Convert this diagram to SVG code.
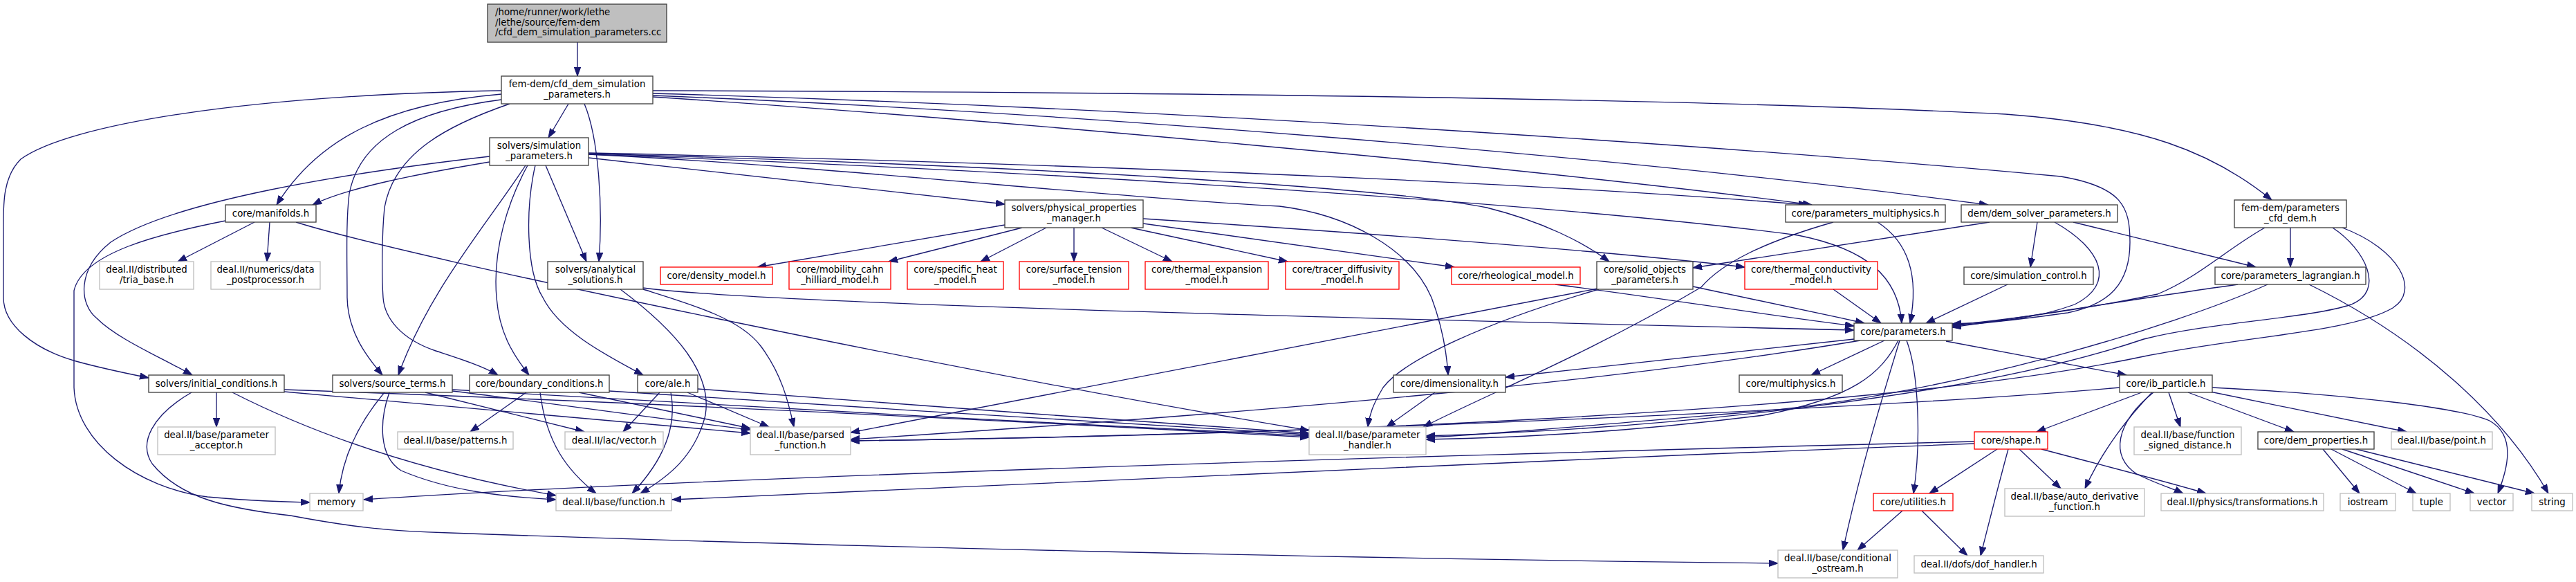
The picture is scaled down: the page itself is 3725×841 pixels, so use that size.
<svg xmlns="http://www.w3.org/2000/svg" width="3725" height="841" viewBox="0 0 3725 841">
<defs>
<marker id="ah" markerUnits="userSpaceOnUse" markerWidth="16" markerHeight="12" refX="13" refY="5" orient="auto">
<path d="M0,0.3 L13,5 L0,9.7 z" fill="#191970" stroke="#191970" stroke-width="1"/>
</marker>
<style>
rect{fill:#ffffff;stroke:#404040;stroke-width:1.33}
.g rect{stroke:#bfbfbf}
.r rect{stroke:#ff0000}
.root rect{fill:#bfbfbf;stroke:#404040}
text{font-family:"DejaVu Sans","Liberation Sans",sans-serif;font-size:13.33px;fill:#000000;text-anchor:middle}
.root text{text-anchor:start}
#edges path{fill:none;stroke:#191970;stroke-width:1.33;marker-end:url(#ah)}
</style>
</defs>
<rect x="0" y="0" width="3725" height="841" style="fill:#ffffff;stroke:none"/>
<g id="edges">
<path d="M835,61 L835,110"/>
<path d="M822,150 L793,199"/>
<path d="M845,150 C866,200 872,300 866,378"/>
<path d="M725,131 C350,138 100,180 30,230 C2,258 5,300 5,340 L5,430 C5,470 50,505 110,522 C150,533 185,540 215,546"/>
<path d="M725,136 C560,150 460,200 400,296"/>
<path d="M725,144 C600,160 520,200 505,280 C500,320 502,380 502,430 C503,480 530,515 553,542"/>
<path d="M737,150 C650,180 570,220 556,300 C552,340 552,400 554,430 C556,460 580,490 630,507 C670,520 700,530 720,542"/>
<path d="M944,131 C1600,133 2400,140 2900,165 C3100,180 3200,220 3285,289"/>
<path d="M944,135 C1800,160 2600,220 2980,255 C3070,270 3080,300 3080,350 C3080,410 3050,440 2990,452 C2920,462 2870,467 2823,471"/>
<path d="M944,138 C1500,160 2300,220 2875,296"/>
<path d="M944,140 C1400,170 2200,240 2620,296"/>
<path d="M708,234 C600,252 500,272 452,296"/>
<path d="M708,226 C500,250 250,290 160,350 C110,390 115,440 140,460 C170,490 230,515 278,542"/>
<path d="M760,239 C700,330 620,420 576,542"/>
<path d="M763,239 C735,290 712,360 718,430 C722,480 740,510 765,542"/>
<path d="M774,239 C760,300 760,390 785,430 C810,480 880,515 930,542"/>
<path d="M789,239 L848,378"/>
<path d="M851,228 L1453,295"/>
<path d="M851,223 C1200,240 1600,285 1850,298 C1950,310 2040,360 2070,430 C2085,470 2092,510 2094,542"/>
<path d="M851,221 C1500,235 2200,262 2614,296"/>
<path d="M851,222 C1500,240 2000,270 2150,300 C2230,320 2290,350 2327,378"/>
<path d="M851,223 C1600,250 2300,300 2600,340 C2700,360 2745,400 2750,467"/>
<path d="M1453,325 L1095,386"/>
<path d="M1478,329 L1285,378"/>
<path d="M1513,329 L1418,378"/>
<path d="M1553,329 L1553,378"/>
<path d="M1593,329 L1695,378"/>
<path d="M1635,329 L1862,378"/>
<path d="M1653,316 C1900,332 2300,360 2523,386"/>
<path d="M1653,323 L2103,386"/>
<path d="M368,321 L257,378"/>
<path d="M390,321 L386,378"/>
<path d="M326,319 C230,338 120,365 107,420 L107,560 C110,640 200,705 300,718 C360,724 410,725 448,726"/>
<path d="M428,321 C600,375 1400,540 1893,622"/>
<path d="M897,418 C980,480 1030,540 1020,600 C1005,660 965,690 926,713"/>
<path d="M930,418 C1000,440 1070,460 1100,500 C1130,540 1140,580 1148,617"/>
<path d="M930,416 C1050,432 1500,450 2681,477"/>
<path d="M313,567 L313,617"/>
<path d="M277,567 C220,600 200,640 220,670 C260,720 330,735 420,745 C500,760 560,768 650,770 C1200,790 2000,808 2571,814"/>
<path d="M336,567 C450,625 600,680 804,716"/>
<path d="M563,567 C548,610 548,660 580,680 C650,710 730,718 804,722"/>
<path d="M556,567 C520,610 495,660 490,713"/>
<path d="M654,565 C800,583 950,605 1085,621"/>
<path d="M654,563 C1000,585 1500,610 1893,630"/>
<path d="M615,567 L845,624"/>
<path d="M411,566 C700,590 950,615 1085,626"/>
<path d="M411,563 C900,580 1500,610 1893,632"/>
<path d="M761,567 L680,624"/>
<path d="M781,567 C790,640 820,680 862,713"/>
<path d="M837,567 L1085,619"/>
<path d="M881,565 C1200,585 1600,612 1893,628"/>
<path d="M954,567 L901,624"/>
<path d="M970,567 C980,620 955,670 914,713"/>
<path d="M994,567 L1112,617"/>
<path d="M1009,562 C1300,585 1600,605 1893,626"/>
<path d="M2310,417 L1230,625"/>
<path d="M2312,418 C2150,465 2030,520 2000,560 C1985,585 1980,600 1978,617"/>
<path d="M2448,414 C2550,435 2620,450 2696,467"/>
<path d="M2249,411 C2400,430 2550,455 2681,471"/>
<path d="M2651,418 L2720,467"/>
<path d="M2903,411 L2785,467"/>
<path d="M2715,321 C2760,350 2775,400 2762,467"/>
<path d="M2651,321 C2550,350 2490,380 2460,415 C2300,510 2150,570 2058,617"/>
<path d="M2877,321 L2448,387"/>
<path d="M2946,321 L2936,386"/>
<path d="M2971,321 C3040,360 3060,410 3000,440 C2940,462 2880,466 2823,468"/>
<path d="M2998,321 L3262,386"/>
<path d="M3312,329 L3312,386"/>
<path d="M3275,329 C3220,360 3180,400 3120,425 C3000,450 2900,462 2823,470"/>
<path d="M3236,411 C3100,430 2950,455 2823,473"/>
<path d="M3279,411 C3150,470 2800,578 2500,598 C2300,615 2150,628 2062,632"/>
<path d="M3373,329 C3420,360 3450,420 3400,440 C3340,460 3200,465 3100,490 C2850,575 2400,620 2062,630"/>
<path d="M3387,329 C3470,360 3500,420 3460,445 C3400,480 3250,485 3100,515 C2700,600 1800,630 1230,637"/>
<path d="M2690,492 C2400,540 2000,585 1230,635"/>
<path d="M2745,492 C2720,540 2680,575 2550,600 C2350,625 2200,632 2062,635"/>
<path d="M2681,490 L2177,545"/>
<path d="M2725,492 L2619,542"/>
<path d="M2747,492 C2720,580 2690,680 2665,795"/>
<path d="M2757,492 C2775,540 2778,640 2767,713"/>
<path d="M2814,493 L3075,542"/>
<path d="M3097,567 L2945,624"/>
<path d="M3136,567 L3153,617"/>
<path d="M3164,567 L3317,624"/>
<path d="M3196,566 L3480,624"/>
<path d="M3199,560 C3400,570 3560,590 3600,608 C3640,630 3625,680 3612,713"/>
<path d="M3112,567 C3080,600 3040,650 3015,706"/>
<path d="M3114,567 C3060,610 3050,660 3090,685 C3120,700 3140,705 3157,713"/>
<path d="M3065,560 C2700,592 1800,630 1230,637"/>
<path d="M2888,649 L2790,713"/>
<path d="M2904,649 C2890,700 2875,760 2864,803"/>
<path d="M2920,649 L2980,706"/>
<path d="M2952,649 C3050,675 3130,695 3190,713"/>
<path d="M2855,638 C2000,660 1000,690 526,722"/>
<path d="M2855,641 C2200,665 1500,700 972,722"/>
<path d="M2751,738 L2686,795"/>
<path d="M2779,738 L2845,803"/>
<path d="M3359,649 L3412,713"/>
<path d="M3371,649 L3494,713"/>
<path d="M3387,649 L3578,713"/>
<path d="M3407,649 L3665,713"/>
<path d="M3339,411 C3500,490 3620,600 3685,713"/>
<path d="M2075,567 L2005,617"/>
</g>
<g id="root" class="root"><rect x="705" y="6" width="259" height="55"/><text x="716" y="22">/home/runner/work/lethe</text><text x="716" y="36.7">/lethe/source/fem-dem</text><text x="716" y="51.3">/cfd_dem_simulation_parameters.cc</text></g>
<g id="A"><rect x="725" y="110" width="219" height="40"/><text x="834.5" y="126">fem-dem/cfd_dem_simulation</text><text x="834.5" y="140.7">_parameters.h</text></g>
<g id="SP"><rect x="708" y="199" width="143" height="40"/><text x="779.5" y="215">solvers/simulation</text><text x="779.5" y="229.7">_parameters.h</text></g>
<g id="MAN"><rect x="326" y="296" width="131" height="25"/><text x="391.5" y="313">core/manifolds.h</text></g>
<g id="PPM"><rect x="1453" y="289" width="200" height="40"/><text x="1553" y="305">solvers/physical_properties</text><text x="1553" y="319.7">_manager.h</text></g>
<g id="PM"><rect x="2582" y="296" width="231" height="25"/><text x="2697.5" y="313">core/parameters_multiphysics.h</text></g>
<g id="DSP"><rect x="2836" y="296" width="226" height="25"/><text x="2949" y="313">dem/dem_solver_parameters.h</text></g>
<g id="PCD"><rect x="3231" y="289" width="162" height="40"/><text x="3312" y="305">fem-dem/parameters</text><text x="3312" y="319.7">_cfd_dem.h</text></g>
<g id="TRIA" class="g"><rect x="144" y="378" width="136" height="40"/><text x="212" y="394">deal.II/distributed</text><text x="212" y="408.7">/tria_base.h</text></g>
<g id="DPP" class="g"><rect x="305" y="378" width="158" height="40"/><text x="384" y="394">deal.II/numerics/data</text><text x="384" y="408.7">_postprocessor.h</text></g>
<g id="AS"><rect x="792" y="378" width="138" height="40"/><text x="861" y="394">solvers/analytical</text><text x="861" y="408.7">_solutions.h</text></g>
<g id="DEN" class="r"><rect x="955" y="386" width="162" height="25"/><text x="1036" y="403">core/density_model.h</text></g>
<g id="MOB" class="r"><rect x="1141" y="378" width="147" height="40"/><text x="1214.5" y="394">core/mobility_cahn</text><text x="1214.5" y="408.7">_hilliard_model.h</text></g>
<g id="SH" class="r"><rect x="1312" y="378" width="139" height="40"/><text x="1381.5" y="394">core/specific_heat</text><text x="1381.5" y="408.7">_model.h</text></g>
<g id="ST" class="r"><rect x="1474" y="378" width="158" height="40"/><text x="1553" y="394">core/surface_tension</text><text x="1553" y="408.7">_model.h</text></g>
<g id="TE" class="r"><rect x="1656" y="378" width="178" height="40"/><text x="1745" y="394">core/thermal_expansion</text><text x="1745" y="408.7">_model.h</text></g>
<g id="TD" class="r"><rect x="1859" y="378" width="164" height="40"/><text x="1941" y="394">core/tracer_diffusivity</text><text x="1941" y="408.7">_model.h</text></g>
<g id="RH" class="r"><rect x="2099" y="386" width="186" height="25"/><text x="2192" y="403">core/rheological_model.h</text></g>
<g id="SOP"><rect x="2309" y="378" width="139" height="40"/><text x="2378.5" y="394">core/solid_objects</text><text x="2378.5" y="408.7">_parameters.h</text></g>
<g id="TC" class="r"><rect x="2523" y="378" width="192" height="40"/><text x="2619" y="394">core/thermal_conductivity</text><text x="2619" y="408.7">_model.h</text></g>
<g id="SC"><rect x="2840" y="386" width="187" height="25"/><text x="2933.5" y="403">core/simulation_control.h</text></g>
<g id="PL"><rect x="3203" y="386" width="218" height="25"/><text x="3312" y="403">core/parameters_lagrangian.h</text></g>
<g id="PAR"><rect x="2681" y="467" width="142" height="25"/><text x="2752" y="484">core/parameters.h</text></g>
<g id="IC"><rect x="215" y="542" width="196" height="25"/><text x="313" y="559">solvers/initial_conditions.h</text></g>
<g id="STm"><rect x="481" y="542" width="173" height="25"/><text x="567.5" y="559">solvers/source_terms.h</text></g>
<g id="BC"><rect x="679" y="542" width="202" height="25"/><text x="780" y="559">core/boundary_conditions.h</text></g>
<g id="ALE"><rect x="922" y="542" width="87" height="25"/><text x="965.5" y="559">core/ale.h</text></g>
<g id="DIM"><rect x="2015" y="542" width="162" height="25"/><text x="2096" y="559">core/dimensionality.h</text></g>
<g id="MP"><rect x="2515" y="542" width="149" height="25"/><text x="2589.5" y="559">core/multiphysics.h</text></g>
<g id="IB"><rect x="3065" y="542" width="134" height="25"/><text x="3132" y="559">core/ib_particle.h</text></g>
<g id="PA" class="g"><rect x="228" y="617" width="170" height="40"/><text x="313" y="633">deal.II/base/parameter</text><text x="313" y="647.7">_acceptor.h</text></g>
<g id="PAT" class="g"><rect x="575" y="624" width="167" height="25"/><text x="658.5" y="641">deal.II/base/patterns.h</text></g>
<g id="VEC" class="g"><rect x="817" y="624" width="142" height="25"/><text x="888" y="641">deal.II/lac/vector.h</text></g>
<g id="PF" class="g"><rect x="1085" y="617" width="145" height="40"/><text x="1157.5" y="633">deal.II/base/parsed</text><text x="1157.5" y="647.7">_function.h</text></g>
<g id="PH" class="g"><rect x="1893" y="617" width="169" height="40"/><text x="1977.5" y="633">deal.II/base/parameter</text><text x="1977.5" y="647.7">_handler.h</text></g>
<g id="SHAPE" class="r"><rect x="2855" y="624" width="106" height="25"/><text x="2908" y="641">core/shape.h</text></g>
<g id="FSD" class="g"><rect x="3086" y="617" width="155" height="40"/><text x="3163.5" y="633">deal.II/base/function</text><text x="3163.5" y="647.7">_signed_distance.h</text></g>
<g id="DEMP"><rect x="3265" y="624" width="168" height="25"/><text x="3349" y="641">core/dem_properties.h</text></g>
<g id="POINT" class="g"><rect x="3458" y="624" width="146" height="25"/><text x="3531" y="641">deal.II/base/point.h</text></g>
<g id="MEM" class="g"><rect x="448" y="713" width="77" height="25"/><text x="486.5" y="730">memory</text></g>
<g id="FUN" class="g"><rect x="804" y="713" width="167" height="25"/><text x="887.5" y="730">deal.II/base/function.h</text></g>
<g id="UTIL" class="r"><rect x="2709" y="713" width="115" height="25"/><text x="2766.5" y="730">core/utilities.h</text></g>
<g id="ADF" class="g"><rect x="2899" y="706" width="202" height="40"/><text x="3000" y="722">deal.II/base/auto_derivative</text><text x="3000" y="736.7">_function.h</text></g>
<g id="TRANS" class="g"><rect x="3125" y="713" width="235" height="25"/><text x="3242.5" y="730">deal.II/physics/transformations.h</text></g>
<g id="IOS" class="g"><rect x="3384" y="713" width="80" height="25"/><text x="3424" y="730">iostream</text></g>
<g id="TUP" class="g"><rect x="3489" y="713" width="54" height="25"/><text x="3516" y="730">tuple</text></g>
<g id="VECT" class="g"><rect x="3572" y="713" width="62" height="25"/><text x="3603" y="730">vector</text></g>
<g id="STR" class="g"><rect x="3661" y="713" width="59" height="25"/><text x="3690.5" y="730">string</text></g>
<g id="CO" class="g"><rect x="2571" y="795" width="173" height="40"/><text x="2657.5" y="811">deal.II/base/conditional</text><text x="2657.5" y="825.7">_ostream.h</text></g>
<g id="DOF" class="g"><rect x="2768" y="803" width="187" height="25"/><text x="2861.5" y="820">deal.II/dofs/dof_handler.h</text></g>
</svg>
